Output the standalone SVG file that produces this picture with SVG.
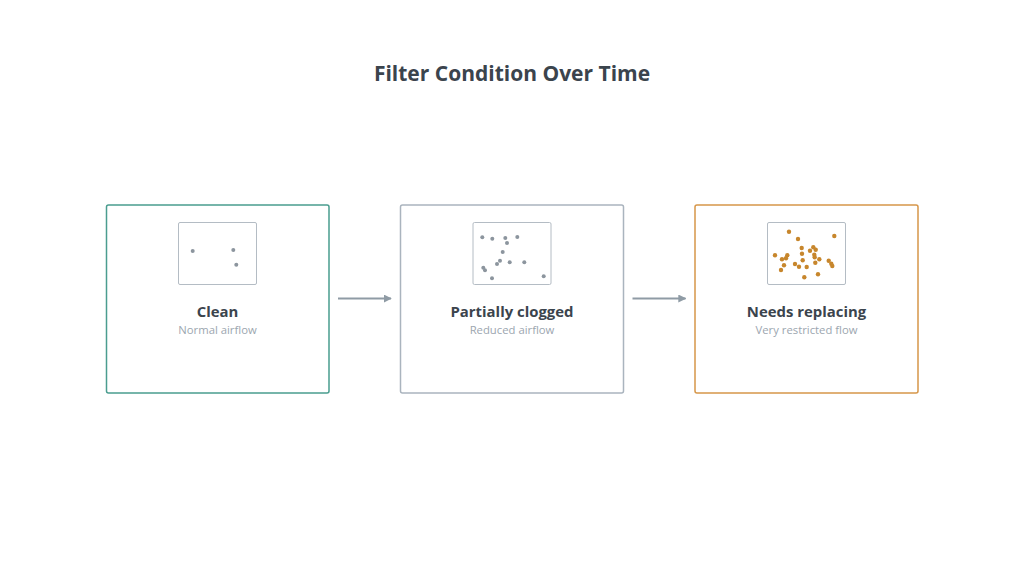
<svg xmlns="http://www.w3.org/2000/svg" width="1024" height="574" viewBox="0 0 1024 574">
<defs>
<style>
.title{font-family:"Open Sans","Liberation Sans",sans-serif;font-weight:700;font-size:21px;fill:#3b444d;text-anchor:middle}
.nt{font-family:"Open Sans","Liberation Sans",sans-serif;font-weight:700;font-size:14.9px;fill:#3b444d;text-anchor:middle}
.ns{font-family:"Open Sans","Liberation Sans",sans-serif;font-size:11.3px;fill:#9ca6af;text-anchor:middle}
.box{fill:#ffffff;stroke-width:1.5}
.filt{fill:#ffffff;stroke:#b4bcc4;stroke-width:1}
.gd{fill:#8c959e}
.od{fill:#c7862c}
.conn{stroke:#8f9ba5;stroke-width:2;fill:none}
</style>
<marker id="ah" viewBox="0 0 10 10" refX="9" refY="5" markerWidth="4" markerHeight="4" orient="auto" markerUnits="strokeWidth">
<path d="M0,0 L10,5 L0,10 z" fill="#8f9ba5"/>
</marker>
</defs>
<rect width="1024" height="574" fill="#ffffff"/>
<text class="title" x="512" y="80.5">Filter Condition Over Time</text>

<g id="node-clean">
<rect class="box" x="106.5" y="205" width="222.5" height="188" rx="2" stroke="#4a9d8f"/>
<rect class="filt" x="178.5" y="222.5" width="78" height="62" rx="1.5"/>
<g class="gd">
<circle cx="192.7" cy="251" r="2"/>
<circle cx="233.3" cy="250" r="2"/>
<circle cx="236.3" cy="264.7" r="2"/>
</g>
<text class="nt" x="217.5" y="316.5">Clean</text>
<text class="ns" x="217.5" y="334">Normal airflow</text>
</g>

<g id="node-partial">
<rect class="box" x="400.5" y="205" width="223" height="188" rx="2" stroke="#aab4be"/>
<rect class="filt" x="473" y="222.5" width="78" height="62" rx="1.5"/>
<g class="gd">
<circle cx="482.3" cy="237.3" r="2"/>
<circle cx="492.3" cy="238.7" r="2"/>
<circle cx="505.3" cy="238" r="2"/>
<circle cx="507" cy="243" r="2"/>
<circle cx="517.3" cy="237" r="2"/>
<circle cx="502.7" cy="252" r="2"/>
<circle cx="500" cy="260.7" r="2"/>
<circle cx="497" cy="264" r="2"/>
<circle cx="509.7" cy="262.3" r="2"/>
<circle cx="524.3" cy="262.3" r="2"/>
<circle cx="483.3" cy="267.7" r="2"/>
<circle cx="485" cy="270.3" r="2"/>
<circle cx="492" cy="278.3" r="2"/>
<circle cx="543.7" cy="276.3" r="2"/>
</g>
<text class="nt" x="512" y="316.5">Partially clogged</text>
<text class="ns" x="512" y="334">Reduced airflow</text>
</g>

<g id="node-replace">
<rect class="box" x="695" y="205" width="223" height="188" rx="2" stroke="#d6964a"/>
<rect class="filt" x="767.5" y="222.5" width="78" height="62" rx="1.5"/>
<g class="od">
<circle cx="789" cy="231.7" r="2.2"/>
<circle cx="798" cy="239" r="2.2"/>
<circle cx="834.3" cy="236" r="2.2"/>
<circle cx="801.7" cy="248" r="2.2"/>
<circle cx="810" cy="250.7" r="2.2"/>
<circle cx="813.3" cy="247.3" r="2.2"/>
<circle cx="815.7" cy="249.7" r="2.2"/>
<circle cx="775" cy="255.3" r="2.2"/>
<circle cx="787.3" cy="255.3" r="2.2"/>
<circle cx="802" cy="253.7" r="2.2"/>
<circle cx="814.3" cy="254.7" r="2.2"/>
<circle cx="814.7" cy="257.3" r="2.2"/>
<circle cx="782" cy="259.3" r="2.2"/>
<circle cx="786" cy="258.3" r="2.2"/>
<circle cx="802.7" cy="260.3" r="2.2"/>
<circle cx="819.3" cy="259.3" r="2.2"/>
<circle cx="828.7" cy="260.7" r="2.2"/>
<circle cx="831.3" cy="263.7" r="2.2"/>
<circle cx="832.3" cy="266" r="2.2"/>
<circle cx="784" cy="265.3" r="2.2"/>
<circle cx="795" cy="264" r="2.2"/>
<circle cx="799" cy="266.7" r="2.2"/>
<circle cx="806.7" cy="267" r="2.2"/>
<circle cx="815.3" cy="262.7" r="2.2"/>
<circle cx="781" cy="270" r="2.2"/>
<circle cx="804.3" cy="277.3" r="2.2"/>
<circle cx="818" cy="274.3" r="2.2"/>
</g>
<text class="nt" x="806.5" y="316.5">Needs replacing</text>
<text class="ns" x="806.5" y="334">Very restricted flow</text>
</g>

<g id="connectors">
<line class="conn" x1="338" y1="298.5" x2="391" y2="298.5" marker-end="url(#ah)"/>
<line class="conn" x1="632.5" y1="298.5" x2="685.5" y2="298.5" marker-end="url(#ah)"/>
</g>
</svg>
